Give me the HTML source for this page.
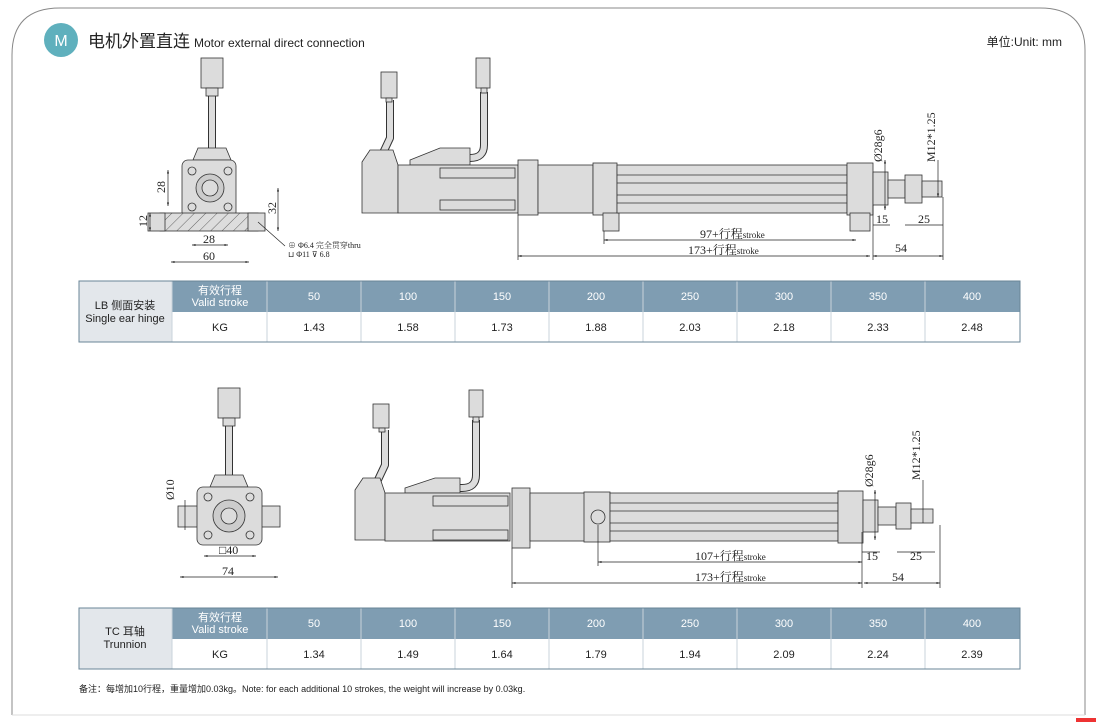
<!DOCTYPE html>
<html><head><meta charset="utf-8"><style>
body{margin:0;background:#fff;width:1100px;height:727px;overflow:hidden;font-family:"Liberation Sans","Noto Sans CJK SC",sans-serif}
svg{position:absolute;left:0;top:0}
.d{font-family:"Liberation Serif","Noto Serif CJK SC",serif;font-size:12px;fill:#222}
.t{font-size:11px;fill:#222;text-anchor:middle;font-family:"Liberation Sans","Noto Sans CJK SC",sans-serif}
.h{font-size:11px;fill:#fff;text-anchor:middle;font-family:"Liberation Sans","Noto Sans CJK SC",sans-serif}
.cb{fill:none;stroke:#333;stroke-width:8;stroke-linejoin:round;stroke-linecap:butt}
.ci{fill:none;stroke:#ddd;stroke-width:6;stroke-linejoin:round;stroke-linecap:butt}
</style></head><body>
<svg width="1100" height="727" viewBox="0 0 1100 727">
<defs>
<marker id="a" viewBox="0 0 10 10" refX="10" refY="5" markerWidth="7" markerHeight="5" orient="auto-start-reverse"><path d="M0,2 L10,5 L0,8z" fill="#222"/></marker>
<pattern id="hat" width="8" height="8" patternUnits="userSpaceOnUse" patternTransform="rotate(45)"><rect width="8" height="8" fill="#ddd"/><line x1="0" y1="0" x2="0" y2="8" stroke="#444" stroke-width="0.8"/></pattern>
</defs>
<path d="M60,8 H1040 Q1085,8 1085,50 V715 M12,715 V55 Q12,8 60,8" fill="none" stroke="#888" stroke-width="1"/>
<line x1="12" y1="715" x2="1085" y2="715" stroke="#ddd"/>
<rect x="1076" y="718" width="20" height="4" fill="#e33"/>
<circle cx="61" cy="40" r="17" fill="#5fb0bd"/>
<text x="61" y="46" fill="#fff" font-size="16" text-anchor="middle">M</text>
<text x="88" y="47" font-size="17" fill="#222">电机外置直连</text>
<text x="194" y="47" font-size="12" fill="#222">Motor external direct connection</text>
<text x="1062" y="46" font-size="12" fill="#222" text-anchor="end">单位:Unit: mm</text>

<!-- cables -->
<path class="cb" d="M212,95 V160"/><path class="ci" d="M212,95 V160"/>
<path class="cb" d="M390,100 V138 L382,155"/><path class="ci" d="M390,100 V138 L382,155"/>
<path class="cb" d="M484,92 V145 Q484,158 470,158 H464"/><path class="ci" d="M484,92 V145 Q484,158 470,158 H464"/>
<path class="cb" d="M229,425 V485"/><path class="ci" d="M229,425 V485"/>
<path class="cb" d="M385,430 V465 L377,482"/><path class="ci" d="M385,430 V465 L377,482"/>
<path class="cb" d="M476,420 V475 Q476,488 462,488 H456"/><path class="ci" d="M476,420 V475 Q476,488 462,488 H456"/>

<g stroke="#333" stroke-width="0.8" fill="#dcdcdc">
<!-- connectors -->
<rect x="201" y="58" width="22" height="30"/><rect x="206" y="88" width="12" height="8"/>
<rect x="381" y="72" width="16" height="26"/><rect x="386" y="98" width="6" height="4"/>
<rect x="476" y="58" width="14" height="30"/><rect x="481" y="88" width="6" height="5"/>
<rect x="218" y="388" width="22" height="30"/><rect x="223" y="418" width="12" height="8"/>
<rect x="373" y="404" width="16" height="24"/><rect x="379" y="428" width="6" height="4"/>
<rect x="469" y="390" width="14" height="27"/><rect x="473" y="417" width="6" height="5"/>
<!-- top front view -->
<path d="M193,160 L198,148 H226 L231,160 Z"/>
<rect x="182" y="160" width="54" height="58" rx="6"/>
<rect x="160" y="213" width="98" height="18" fill="url(#hat)"/>
<rect x="148" y="213" width="17" height="18"/><rect x="248" y="213" width="17" height="18"/>
<circle cx="210" cy="188" r="14" fill="#ccc"/><circle cx="210" cy="188" r="8"/>
<circle cx="192" cy="171" r="4"/><circle cx="228" cy="171" r="4"/><circle cx="192" cy="207" r="4"/><circle cx="228" cy="207" r="4"/>
<!-- top side view -->
<path d="M362,162 L370,150 H393 L398,165 V213 H362Z"/>
<path d="M410,160 L440,148 H470 V165 H410Z"/>
<rect x="398" y="165" width="120" height="48"/><rect x="440" y="168" width="75" height="10"/><rect x="440" y="200" width="75" height="10"/>
<rect x="518" y="160" width="20" height="55"/>
<rect x="538" y="165" width="55" height="48"/>
<rect x="593" y="163" width="24" height="52"/><rect x="603" y="213" width="16" height="18"/>
<rect x="617" y="165" width="230" height="48"/>
<line x1="617" y1="175" x2="847" y2="175"/><line x1="617" y1="183" x2="847" y2="183"/><line x1="617" y1="195" x2="847" y2="195"/><line x1="617" y1="203" x2="847" y2="203"/>
<rect x="847" y="163" width="26" height="52"/><rect x="850" y="213" width="20" height="18"/>
<rect x="873" y="172" width="15" height="33"/><rect x="888" y="180" width="17" height="18"/><rect x="905" y="175" width="17" height="28"/><rect x="922" y="181" width="20" height="16"/>
<!-- bottom front view -->
<path d="M210,487 L215,475 H243 L248,487Z"/>
<rect x="178" y="506" width="102" height="21"/>
<rect x="197" y="487" width="65" height="58" rx="6"/>
<circle cx="229" cy="516" r="16" fill="#ccc"/><circle cx="229" cy="516" r="8"/>
<circle cx="208" cy="497" r="4"/><circle cx="250" cy="497" r="4"/><circle cx="208" cy="535" r="4"/><circle cx="250" cy="535" r="4"/>
<!-- bottom side view -->
<path d="M355,490 L363,478 H380 L385,493 V540 H355Z"/>
<path d="M405,488 L435,478 H460 V493 H405Z"/>
<rect x="385" y="493" width="125" height="48"/><rect x="433" y="496" width="75" height="10"/><rect x="433" y="530" width="75" height="10"/>
<rect x="512" y="488" width="18" height="60"/>
<rect x="530" y="493" width="68" height="48"/>
<rect x="584" y="492" width="26" height="50"/><circle cx="598" cy="517" r="7"/>
<rect x="610" y="493" width="228" height="48"/>
<line x1="610" y1="503" x2="838" y2="503"/><line x1="610" y1="511" x2="838" y2="511"/><line x1="610" y1="523" x2="838" y2="523"/><line x1="610" y1="531" x2="838" y2="531"/>
<rect x="838" y="491" width="25" height="52"/>
<rect x="863" y="500" width="15" height="32"/><rect x="878" y="507" width="18" height="18"/><rect x="896" y="503" width="15" height="26"/><rect x="911" y="509" width="22" height="14"/>
</g>

<g stroke="#222" stroke-width="0.7" fill="none">
<line x1="168" y1="170" x2="168" y2="206" marker-start="url(#a)" marker-end="url(#a)"/>
<line x1="150" y1="213" x2="150" y2="231" marker-start="url(#a)" marker-end="url(#a)"/>
<line x1="278" y1="188" x2="278" y2="231" marker-start="url(#a)" marker-end="url(#a)"/>
<line x1="192" y1="245" x2="228" y2="245" marker-start="url(#a)" marker-end="url(#a)"/>
<line x1="171" y1="262" x2="249" y2="262" marker-start="url(#a)" marker-end="url(#a)"/>
<line x1="258" y1="222" x2="285" y2="246"/>
<line x1="604" y1="240" x2="856" y2="240" marker-start="url(#a)" marker-end="url(#a)"/>
<line x1="518" y1="256" x2="870" y2="256" marker-start="url(#a)" marker-end="url(#a)"/>
<line x1="873" y1="256" x2="943" y2="256" marker-start="url(#a)" marker-end="url(#a)"/>
<line x1="873" y1="225" x2="890" y2="225"/><line x1="905" y1="225" x2="943" y2="225"/>
<line x1="518" y1="215" x2="518" y2="260"/><line x1="873" y1="205" x2="873" y2="260"/><line x1="943" y1="197" x2="943" y2="260"/><line x1="604" y1="231" x2="604" y2="244"/>
<line x1="885" y1="160" x2="885" y2="210" marker-start="url(#a)" marker-end="url(#a)"/>
<line x1="938" y1="160" x2="938" y2="197" marker-end="url(#a)"/>
<line x1="185" y1="500" x2="185" y2="530"/>
<line x1="204" y1="556" x2="256" y2="556" marker-start="url(#a)" marker-end="url(#a)"/>
<line x1="180" y1="577" x2="278" y2="577" marker-start="url(#a)" marker-end="url(#a)"/>
<line x1="598" y1="562" x2="862" y2="562" marker-start="url(#a)" marker-end="url(#a)"/>
<line x1="512" y1="583" x2="862" y2="583" marker-start="url(#a)" marker-end="url(#a)"/>
<line x1="864" y1="583" x2="940" y2="583" marker-start="url(#a)" marker-end="url(#a)"/>
<line x1="862" y1="552" x2="880" y2="552"/><line x1="897" y1="552" x2="935" y2="552"/>
<line x1="512" y1="548" x2="512" y2="588"/><line x1="862" y1="532" x2="862" y2="588"/><line x1="940" y1="525" x2="940" y2="588"/><line x1="598" y1="525" x2="598" y2="566"/>
<line x1="875" y1="490" x2="875" y2="540" marker-start="url(#a)" marker-end="url(#a)"/>
<line x1="923" y1="480" x2="923" y2="523"/>
</g>
<g class="d">
<text transform="translate(165,193) rotate(-90)">28</text>
<text transform="translate(147,227) rotate(-90)">12</text>
<text transform="translate(276,214) rotate(-90)">32</text>
<text x="203" y="243">28</text><text x="203" y="260">60</text>
<text x="288" y="248" font-size="8">⊕ Φ6.4 完全贯穿thru</text>
<text x="288" y="257" font-size="8">⊔ Φ11 ⊽ 6.8</text>
<text x="700" y="238">97+行程<tspan font-size="9">stroke</tspan></text>
<text x="688" y="254">173+行程<tspan font-size="9">stroke</tspan></text>
<text x="895" y="252">54</text><text x="876" y="223">15</text><text x="918" y="223">25</text>
<text transform="translate(882,162) rotate(-90)">Ø28g6</text>
<text transform="translate(935,162) rotate(-90)">M12*1.25</text>
<text transform="translate(174,500) rotate(-90)">Ø10</text>
<text x="219" y="554">□40</text><text x="222" y="575">74</text>
<text x="695" y="560">107+行程<tspan font-size="9">stroke</tspan></text>
<text x="695" y="581">173+行程<tspan font-size="9">stroke</tspan></text>
<text x="892" y="581">54</text><text x="866" y="560">15</text><text x="910" y="560">25</text>
<text transform="translate(873,487) rotate(-90)">Ø28g6</text>
<text transform="translate(920,480) rotate(-90)">M12*1.25</text>
</g>

<g>
<rect x="79" y="281" width="941" height="61" fill="#fff" stroke="#6a8597"/>
<rect x="79" y="281" width="93" height="61" fill="#e3e7eb"/>
<rect x="172" y="281" width="848" height="31" fill="#7f9db2"/>
<g stroke="#c8d3db"><line x1="267" y1="281" x2="267" y2="342"/><line x1="361" y1="281" x2="361" y2="342"/><line x1="455" y1="281" x2="455" y2="342"/><line x1="549" y1="281" x2="549" y2="342"/><line x1="643" y1="281" x2="643" y2="342"/><line x1="737" y1="281" x2="737" y2="342"/><line x1="831" y1="281" x2="831" y2="342"/><line x1="925" y1="281" x2="925" y2="342"/><line x1="172" y1="281" x2="172" y2="342"/></g>
<rect x="79" y="281" width="941" height="61" fill="none" stroke="#6a8597"/>
<text class="t" x="125" y="309">LB 侧面安装</text><text class="t" x="125" y="322">Single ear hinge</text>
<text class="h" x="220" y="294">有效行程</text><text class="h" x="220" y="306">Valid stroke</text>
<g class="h"><text x="314" y="300">50</text><text x="408" y="300">100</text><text x="502" y="300">150</text><text x="596" y="300">200</text><text x="690" y="300">250</text><text x="784" y="300">300</text><text x="878" y="300">350</text><text x="972" y="300">400</text></g>
<g class="t"><text x="220" y="331">KG</text><text x="314" y="331">1.43</text><text x="408" y="331">1.58</text><text x="502" y="331">1.73</text><text x="596" y="331">1.88</text><text x="690" y="331">2.03</text><text x="784" y="331">2.18</text><text x="878" y="331">2.33</text><text x="972" y="331">2.48</text></g>
</g>
<g>
<rect x="79" y="608" width="941" height="61" fill="#fff" stroke="#6a8597"/>
<rect x="79" y="608" width="93" height="61" fill="#e3e7eb"/>
<rect x="172" y="608" width="848" height="31" fill="#7f9db2"/>
<g stroke="#c8d3db"><line x1="267" y1="608" x2="267" y2="669"/><line x1="361" y1="608" x2="361" y2="669"/><line x1="455" y1="608" x2="455" y2="669"/><line x1="549" y1="608" x2="549" y2="669"/><line x1="643" y1="608" x2="643" y2="669"/><line x1="737" y1="608" x2="737" y2="669"/><line x1="831" y1="608" x2="831" y2="669"/><line x1="925" y1="608" x2="925" y2="669"/><line x1="172" y1="608" x2="172" y2="669"/></g>
<rect x="79" y="608" width="941" height="61" fill="none" stroke="#6a8597"/>
<text class="t" x="125" y="635">TC 耳轴</text><text class="t" x="125" y="648">Trunnion</text>
<text class="h" x="220" y="621">有效行程</text><text class="h" x="220" y="633">Valid stroke</text>
<g class="h"><text x="314" y="627">50</text><text x="408" y="627">100</text><text x="502" y="627">150</text><text x="596" y="627">200</text><text x="690" y="627">250</text><text x="784" y="627">300</text><text x="878" y="627">350</text><text x="972" y="627">400</text></g>
<g class="t"><text x="220" y="658">KG</text><text x="314" y="658">1.34</text><text x="408" y="658">1.49</text><text x="502" y="658">1.64</text><text x="596" y="658">1.79</text><text x="690" y="658">1.94</text><text x="784" y="658">2.09</text><text x="878" y="658">2.24</text><text x="972" y="658">2.39</text></g>
</g>
<text x="79" y="692" font-size="9" fill="#222">备注：每增加10行程，重量增加0.03kg。Note: for each additional 10 strokes, the weight will increase by 0.03kg.</text>
</svg>
</body></html>
